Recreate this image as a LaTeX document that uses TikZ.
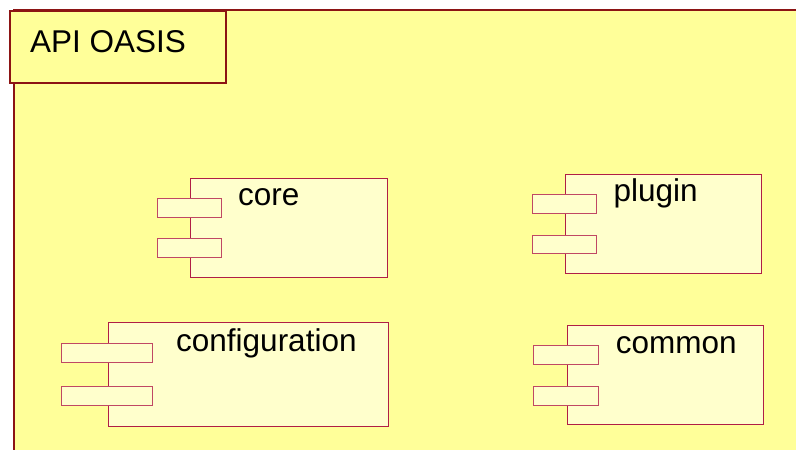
\documentclass[tikz,border=0pt]{standalone}
\usepackage{fontspec}
\setmainfont{Liberation Sans}
\definecolor{pkgfill}{RGB}{255,255,153}
\definecolor{pkgline}{RGB}{140,20,20}
\definecolor{compfill}{RGB}{255,255,204}
\definecolor{compline}{RGB}{176,30,70}
\definecolor{portline}{RGB}{192,72,100}
\tikzset{
  pkgbox/.style={draw=pkgline, fill=pkgfill, line width=1.6pt},
  comp/.style={draw=compline, fill=compfill, line width=1pt, inner sep=0pt, anchor=north west},
  port/.style={draw=portline, fill=compfill, line width=1pt, inner sep=0pt, anchor=north west,
    minimum width=64pt, minimum height=18.5pt},
  lbl/.style={inner sep=0pt, anchor=base west, font=\fontsize{31.5}{36}\selectfont, text=black},
}
\begin{document}
\begin{tikzpicture}[x=1pt, y=-1pt]
  \useasboundingbox (0,0) rectangle (796,450);
  \fill[white] (0,0) rectangle (796,450);
  \begin{scope}
    \clip (0,0) rectangle (796,450);
    % package body and its name tab
    \path[pkgbox] (14,10) rectangle (820,470);
    \node[pkgbox, inner sep=0pt, anchor=north west, minimum width=216pt, minimum height=72pt] (tab) at (9,10) {};
    \node[lbl] (tabname) at (30,52) {API OASIS};

    % component: core
    \node[comp, minimum width=197pt, minimum height=98.5pt] (core) at (190,178.3) {};
    \node[port] (core1) at (157.3,198.3) {};
    \node[port] (core2) at (157.3,238.3) {};
    \node[lbl] (corelbl) at (238,205) {core};

    % component: configuration
    \node[comp, minimum width=280pt, minimum height=103.7pt] (conf) at (107.7,322.3) {};
    \node[port, minimum width=91.6pt, minimum height=19pt] (conf1) at (60.7,343.3) {};
    \node[port, minimum width=91.6pt, minimum height=19pt] (conf2) at (60.7,386) {};
    \node[lbl] (conflbl) at (176,351.7) {configuration};

    % component: plugin
    \node[comp, minimum width=196pt, minimum height=99pt] (plugin) at (565,174.3) {};
    \node[port, minimum width=64.6pt, minimum height=18.7pt] (plugin1) at (531.7,194) {};
    \node[port, minimum width=64.6pt, minimum height=18.7pt] (plugin2) at (531.7,234.7) {};
    \node[lbl] (pluginlbl) at (613.3,201.5) {plugin};

    % component: common
    \node[comp, minimum width=196.6pt, minimum height=99.3pt] (common) at (566.7,325) {};
    \node[port, minimum width=64.7pt, minimum height=18.8pt] (common1) at (533.3,345) {};
    \node[port, minimum width=64.7pt, minimum height=18.8pt] (common2) at (533.3,385.7) {};
    \node[lbl] (commonlbl) at (615.7,353.3) {common};
  \end{scope}
\end{tikzpicture}
\end{document}
